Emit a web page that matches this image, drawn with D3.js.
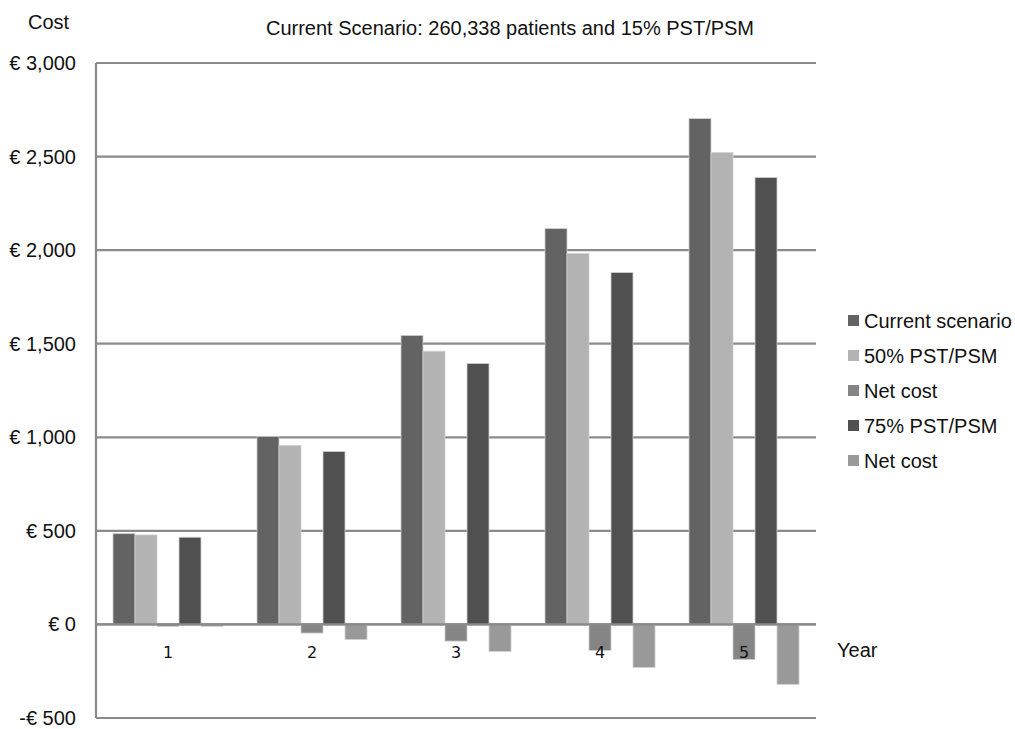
<!DOCTYPE html>
<html><head><meta charset="utf-8">
<script src="https://cdn.jsdelivr.net/npm/d3@7"></script>
<style>body{margin:0;background:#fff}</style>
</head><body>
<svg id="c" width="1015" height="729"></svg>
<script>
const years = ["1","2","3","4","5"];
const seriesNames = ["Current scenario","50% PST/PSM","Net cost","75% PST/PSM","Net cost"];
const currentScenario = [485, 1005, 1544, 2115, 2703];
const pst50 = [478, 956, 1460, 1982, 2521];
const netCost50 = [-10, -46, -89, -139, -187];
const pst75 = [466, 924, 1394, 1880, 2388];
const netCost75 = [-10, -80, -144, -230, -320];
const yTicks = [-500, 0, 500, 1000, 1500, 2000, 2500, 3000];
const colors = ["#636363","#b3b3b3","#858585","#505050","#999999"];
const allSeries = [currentScenario, pst50, netCost50, pst75, netCost75];

const svg = d3.select("#c");
const L = 96, R = 816, T = 63, B = 718;
const x = d3.scaleBand().domain(years).range([L, R]).paddingInner(0.236).paddingOuter(0.118);
const xs = d3.scaleBand().domain(d3.range(5)).range([0, x.bandwidth()]);
const y = d3.scaleLinear().domain([-500, 3000]).range([B, T]);
const font = "Liberation Sans, Arial, sans-serif";

// gridlines
svg.append("g").selectAll("line").data(yTicks).join("line")
  .attr("x1", L).attr("x2", R).attr("y1", d => y(d)).attr("y2", d => y(d))
  .attr("stroke", "#8a8a8a").attr("stroke-width", 2.2);
svg.append("line").attr("x1", L).attr("x2", L).attr("y1", T).attr("y2", B)
  .attr("stroke", "#8a8a8a").attr("stroke-width", 2.2);

// y tick labels
const fmt = d => (d < 0 ? "-€ " : "€ ") + d3.format(",")(Math.abs(d));
svg.append("g").selectAll("text").data(yTicks).join("text")
  .attr("x", 76).attr("y", d => y(d) + 7).attr("text-anchor", "end")
  .attr("font-family", font).attr("font-size", 20).attr("fill", "#111")
  .text(fmt);

// bars
const g = svg.append("g");
allSeries.forEach((vals, si) => {
  g.selectAll(null).data(vals).join("rect")
    .attr("x", (d, i) => x(years[i]) + xs(si))
    .attr("width", xs.bandwidth())
    .attr("y", d => y(Math.max(0, d)))
    .attr("height", d => Math.abs(y(d) - y(0)))
    .attr("fill", colors[si])
    .attr("stroke", "#cfcfcf").attr("stroke-width", 0.8);
});
// zero line over bars
svg.append("line").attr("x1", L).attr("x2", R).attr("y1", y(0)).attr("y2", y(0))
  .attr("stroke", "#8a8a8a").attr("stroke-width", 2.2);

// category labels
svg.append("g").selectAll("text").data(years).join("text")
  .attr("x", d => x(d) + x.bandwidth() / 2).attr("y", 658).attr("text-anchor", "middle")
  .attr("font-family", "DejaVu Sans, sans-serif").attr("font-size", 16).attr("fill", "#111")
  .text(d => d);

// titles
svg.append("text").attr("x", 510).attr("y", 35).attr("text-anchor", "middle")
  .attr("font-family", font).attr("font-size", 20).attr("fill", "#111")
  .text("Current Scenario: 260,338 patients and 15% PST/PSM");
svg.append("text").attr("x", 28).attr("y", 29)
  .attr("font-family", font).attr("font-size", 20).attr("fill", "#111").text("Cost");
svg.append("text").attr("x", 837).attr("y", 657)
  .attr("font-family", font).attr("font-size", 20).attr("fill", "#111").text("Year");

// legend
const lg = svg.append("g").selectAll("g").data(seriesNames).join("g")
  .attr("transform", (d, i) => `translate(848, ${321 + i * 35})`);
lg.append("rect").attr("x", 0).attr("y", -6).attr("width", 11).attr("height", 11)
  .attr("fill", (d, i) => colors[i]);
lg.append("text").attr("x", 16).attr("y", 7)
  .attr("font-family", font).attr("font-size", 20).attr("fill", "#111").text(d => d);
</script>
</body></html>
